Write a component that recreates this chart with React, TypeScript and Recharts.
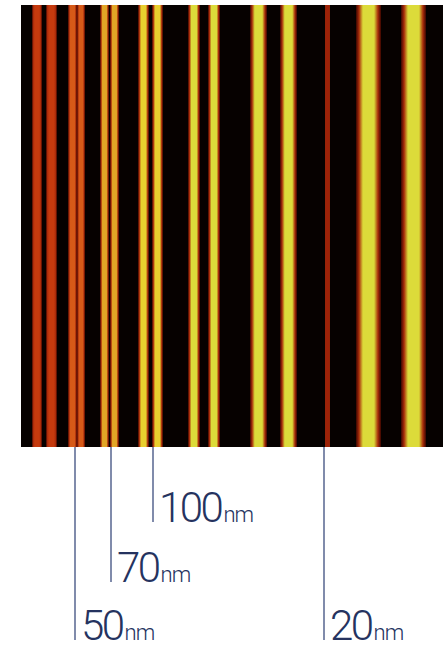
import { ComposedChart, XAxis, YAxis, ReferenceArea, ReferenceLine, Scatter } from "recharts";

// frame of the micrograph (figure units = px of the original figure)
const IMAGE_X = [21, 443];
const IMAGE_Y = [5, 447];

// stripe edges, left to right
const STRIPE_START = [32, 46, 68, 77, 100, 110, 138, 152, 188, 208, 250, 280, 325, 356, 401];
const STRIPE_END = [42, 57, 77, 85, 109, 119, 149, 163, 200, 220, 267, 297, 330, 381, 426];
const STRIPE_TONE = [
  "red", "red", "orange", "orange", "amber", "amber", "gold", "gold",
  "yellow", "yellow", "yellow", "yellow", "thin", "yellow", "yellow",
];

// width markers under the image
const MARK_X = [75, 111, 153, 324];
const MARK_END = [640, 582, 522, 640];
const MARK_VALUE = ["50", "70", "100", "20"];
const MARK_UNIT = "nm";

const TONES: Record<string, string> = {
  red: "#c53a0e",
  orange: "#d65a18",
  amber: "#e2a626",
  gold: "#e8cf2e",
  yellow: "#dcdb3a",
  thin: "#9e2208",
};

const LINE = "#56648f";
const INK = "#25335f";

const labelRows = MARK_X.map((x, i) => ({ x, y: MARK_END[i], value: MARK_VALUE[i] }));

function MarkLabel(props: any) {
  const { cx, cy, payload } = props;
  if (cx == null || cy == null) return null;
  return (
    <text x={cx + 6} y={cy} fill={INK} fontFamily="Roboto, sans-serif" fontWeight={300}>
      <tspan fontSize={42} letterSpacing={-2.5}>{payload.value}</tspan>
      <tspan fontSize={22} dx={2} letterSpacing={-1}>{MARK_UNIT}</tspan>
    </text>
  );
}

export default function App() {
  return (
    <div style={{ position: "absolute", left: 0, top: 0 }}>
      <ComposedChart width={443} height={646} margin={{ top: 0, right: 0, bottom: 0, left: 0 }}>
        <defs>
          {Object.entries(TONES).map(([k, c]) => (
            <linearGradient key={k} id={`tone-${k}`} x1="0" y1="0" x2="1" y2="0">
              <stop offset="0%" stopColor="#3a0600" />
              <stop offset="12%" stopColor="#a82a0a" />
              <stop offset="28%" stopColor={c} />
              <stop offset="72%" stopColor={c} />
              <stop offset="88%" stopColor="#a82a0a" />
              <stop offset="100%" stopColor="#3a0600" />
            </linearGradient>
          ))}
        </defs>
        <XAxis type="number" dataKey="x" domain={[0, 443]} hide allowDataOverflow />
        <YAxis type="number" dataKey="y" domain={[0, 646]} reversed hide allowDataOverflow />
        <ReferenceArea
          x1={IMAGE_X[0]}
          x2={IMAGE_X[1]}
          y1={IMAGE_Y[0]}
          y2={IMAGE_Y[1]}
          fill="#060100"
          fillOpacity={1}
          stroke="none"
        />
        {STRIPE_START.map((s, i) => (
          <ReferenceArea
            key={i}
            x1={s}
            x2={STRIPE_END[i]}
            y1={IMAGE_Y[0]}
            y2={IMAGE_Y[1]}
            fill={`url(#tone-${STRIPE_TONE[i]})`}
            fillOpacity={1}
            stroke="none"
          />
        ))}
        {MARK_X.map((x, i) => (
          <ReferenceLine
            key={i}
            segment={[{ x, y: IMAGE_Y[1] }, { x, y: MARK_END[i] }]}
            stroke={LINE}
            strokeWidth={1.5}
          />
        ))}
        <Scatter data={labelRows} shape={<MarkLabel />} isAnimationActive={false} />
      </ComposedChart>
    </div>
  );
}
